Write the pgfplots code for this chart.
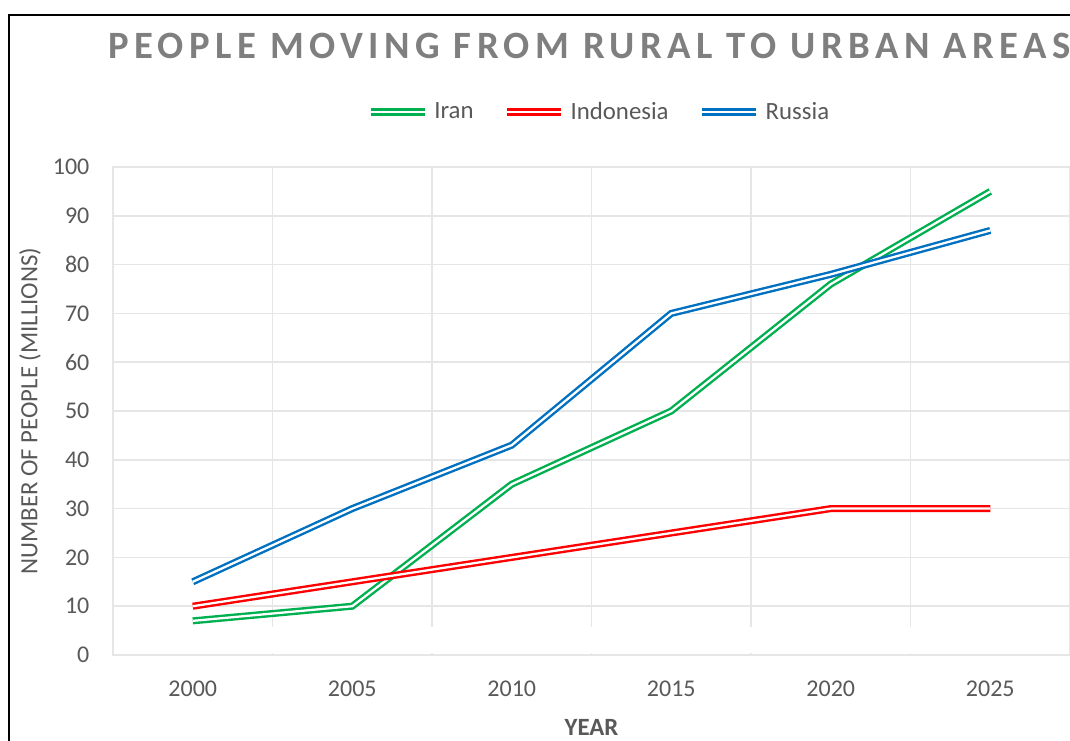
\documentclass[border=0pt]{standalone}
\usepackage{pgfplots}
\pgfplotsset{compat=1.18}
\usepackage{fontspec}
\setmainfont{Carlito}
\newfontfamily\titlefont[LetterSpace=14]{Carlito}
\definecolor{iran}{HTML}{00B050}
\definecolor{indo}{HTML}{FF0000}
\definecolor{russ}{HTML}{0070C0}
\definecolor{txt}{HTML}{595959}
\definecolor{titlegray}{HTML}{7F7F7F}
\definecolor{gridc}{HTML}{E6E6E6}
\pgfplotstableread{
x Iran Indonesia Russia
0 7  10 15
1 10 15 30
2 35 20 43
3 50 25 70
4 76 30 78
5 95 30 87
}\datatable
\begin{document}
\begin{tikzpicture}
\useasboundingbox (0pt,0pt) rectangle (802.5pt,-555pt);
\clip (0pt,0pt) rectangle (802.5pt,-555pt);
\fill[white] (0pt,0pt) rectangle (802.5pt,-555pt);
\draw[line width=1.5pt] (6.75pt,-600pt) -- (6.75pt,-11.25pt) -- (850pt,-11.25pt);
\node[anchor=base west, font=\titlefont\bfseries\fontsize{29}{30}\selectfont, text=titlegray, inner sep=0pt] at (81pt,-43.5pt) {PEOPLE MOVING FROM RURAL TO URBAN AREAS};
\begin{axis}[
  at={(84.75pt,-491.25pt)}, anchor=south west,
  scale only axis, width=717.75pt, height=366pt,
  xmin=-0.5, xmax=5.5, ymin=0, ymax=100,
  xtick={0,1,2,3,4,5},
  xticklabels={2000,2005,2010,2015,2020,2025},
  minor xtick={0.5,1.5,2.5,3.5,4.5},
  ytick={0,10,...,100},
  xminorgrids, ymajorgrids,
  major tick length=0pt, minor tick length=0pt,
  grid style={draw=gridc, line width=1.1pt},
  minor grid style={draw=gridc, line width=1.1pt},
  axis line style={draw=gridc, line width=1.1pt},
  /pgf/number format/assume math mode=true,
  yticklabel style={font=\fontsize{18}{20}\selectfont, text=txt, inner sep=0pt, anchor=east, xshift=-17.5pt},
  xticklabel style={font=\fontsize{18}{20}\selectfont, text=txt, inner sep=0pt, anchor=center, yshift=-25.5pt},
  xlabel={YEAR},
  xlabel style={font=\bfseries\fontsize{18.6}{20}\selectfont, text=txt, at={(axis description cs:0.5,-0.1475)}, anchor=center, inner sep=0pt},
  ylabel={NUMBER OF PEOPLE (MILLIONS)},
  ylabel style={font=\fontsize{18.6}{20}\selectfont, text=txt, at={(axis description cs:-0.0867,0.5)}, anchor=center, inner sep=0pt},
  legend columns=3,
  legend style={at={(0.507,1.1127)}, anchor=center, draw=none, fill=none,
    font=\fontsize{18.6}{20}\selectfont, text=txt, nodes={inner sep=0pt},
    /tikz/every odd column/.append style={column sep=4.5pt},
    /tikz/every even column/.append style={column sep=22.5pt}},
  legend image code/.code={\draw[#1] (0pt,0pt) -- (40.5pt,0pt);},
  every axis plot/.append style={line width=1.8pt, double=white, double distance=1.7pt, mark=none},
]
\fill[white] (axis cs:-0.485,0.4) rectangle (axis cs:5.485,5.7);
\addplot[draw=iran] table[x=x, y=Iran] {\datatable};
\addlegendentry{Iran}
\addplot[draw=indo] table[x=x, y=Indonesia] {\datatable};
\addlegendentry{Indonesia}
\addplot[draw=russ] table[x=x, y=Russia] {\datatable};
\addlegendentry{Russia}
\end{axis}
\end{tikzpicture}
\end{document}
